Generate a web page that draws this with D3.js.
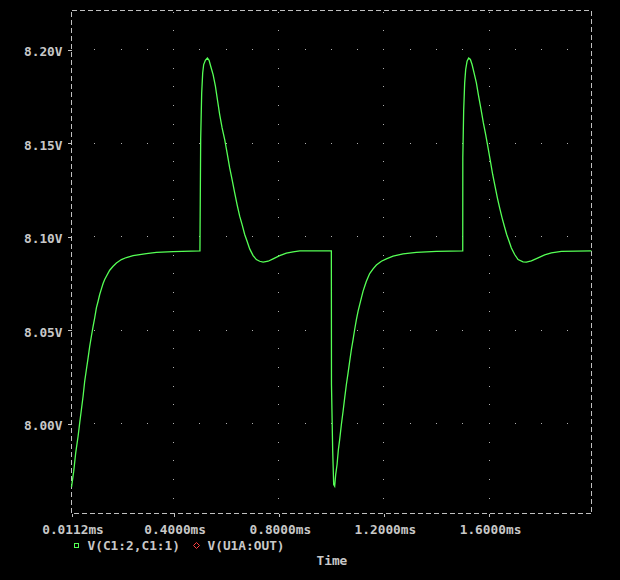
<!DOCTYPE html>
<html><head><meta charset="utf-8">
<script src="https://cdn.jsdelivr.net/npm/d3@7"></script>
<style>
html,body{margin:0;padding:0;background:#000;}
svg{display:block;}
text{font-family:"DejaVu Sans Mono","Liberation Mono",monospace;font-weight:bold;font-size:12.8px;fill:#c8c8c8;}
</style></head>
<body>
<script>
// ---- data (time in ms, voltage in V) ----
const seg1Time = [0.0112,0.0196,0.0272,0.0363,0.0424,0.0489,0.0553,0.0614,0.0679,0.0744,0.0805,0.0869,0.0934,0.0995,0.1059,0.1124,0.1185,0.1250,0.1314,0.1375,0.1440,0.1566,0.1695,0.1821,0.2011,0.2201,0.2456,0.2962,0.3343,0.3978,0.5000];
const seg1Volt = [7.9660,7.9744,7.9843,7.9932,8.0004,8.0075,8.0146,8.0226,8.0289,8.0351,8.0413,8.0467,8.0520,8.0565,8.0619,8.0654,8.0690,8.0720,8.0749,8.0770,8.0788,8.0820,8.0841,8.0859,8.0877,8.0888,8.0898,8.0909,8.0916,8.0920,8.0923];
const seg2Time = [0.5005,0.5028,0.5066,0.5104,0.5142,0.5207,0.5283,0.5348,0.5409,0.5500,0.5588,0.5664,0.5751,0.5843,0.5942,0.6033,0.6132,0.6223,0.6322,0.6413,0.6512,0.6604,0.6703,0.6794,0.6893,0.7022,0.7148,0.7273,0.7403,0.7593,0.7783,0.8034,0.8289,0.8544,0.8795,1.0000];
const seg2Volt = [8.1043,8.1524,8.1768,8.1875,8.1920,8.1943,8.1955,8.1943,8.1911,8.1866,8.1804,8.1733,8.1652,8.1581,8.1519,8.1447,8.1367,8.1305,8.1234,8.1171,8.1109,8.1064,8.1011,8.0975,8.0934,8.0898,8.0877,8.0868,8.0863,8.0868,8.0881,8.0898,8.0911,8.0918,8.0923,8.0923];
const seg3Time = [1.0005,1.0051,1.0089,1.0127,1.0165,1.0218,1.0268,1.0317,1.0382,1.0447,1.0508,1.0572,1.0637,1.0698,1.0763,1.0827,1.0888,1.0953,1.1018,1.1079,1.1143,1.1208,1.1269,1.1333,1.1459,1.1588,1.1714,1.1904,1.2094,1.2349,1.2730,1.3236,1.3997,1.5000];
const seg3Volt = [8.0209,7.9857,7.9674,7.9665,7.9727,7.9781,7.9861,7.9914,7.9995,8.0066,8.0137,8.0209,8.0271,8.0333,8.0396,8.0449,8.0503,8.0556,8.0601,8.0636,8.0672,8.0708,8.0734,8.0761,8.0802,8.0827,8.0848,8.0868,8.0881,8.0895,8.0907,8.0916,8.0921,8.0923];
const seg4Time = [1.5003,1.5036,1.5074,1.5112,1.5165,1.5226,1.5291,1.5355,1.5431,1.5519,1.5606,1.5698,1.5785,1.5873,1.5964,1.6052,1.6139,1.6230,1.6318,1.6405,1.6497,1.6584,1.6672,1.6763,1.6851,1.6976,1.7106,1.7296,1.7422,1.7612,1.7867,1.8118,1.8373,1.8754,1.9895];
const seg4Volt = [8.1421,8.1675,8.1822,8.1893,8.1938,8.1955,8.1947,8.1920,8.1875,8.1822,8.1750,8.1679,8.1608,8.1545,8.1474,8.1403,8.1332,8.1269,8.1207,8.1153,8.1100,8.1055,8.1011,8.0975,8.0939,8.0904,8.0877,8.0865,8.0863,8.0870,8.0886,8.0902,8.0913,8.0921,8.0923];

const xTickValues = [0.0112, 0.4, 0.8, 1.2, 1.6];
const xTickLabels = ["0.0112ms", "0.4000ms", "0.8000ms", "1.2000ms", "1.6000ms"];
const yTickValues = [8.00, 8.05, 8.10, 8.15, 8.20];
const yTickLabels = ["8.00V", "8.05V", "8.10V", "8.15V", "8.20V"];
const legendNames = ["V(C1:2,C1:1)", "V(U1A:OUT)"];
const xLabel = "Time";

// ---- layout ----
const W = 620, H = 580;
const pL = 71.5, pR = 591.5, pT = 10.5, pB = 513.5;
const frameCol = "#c0c0c0", dotCol = "#b0b0b0", lineCol = "#55ff55";

const svg = d3.select("body").append("svg").attr("width", W).attr("height", H);
svg.append("rect").attr("width", W).attr("height", H).attr("fill", "#000");

const x = d3.scaleLinear().domain([0.0112, 1.99]).range([pL, pR]);
const y = d3.scaleLinear().domain([7.9519, 8.2209]).range([pB, pT]);

// grid dots
const dots = [];
const xMinor = d3.range(1, 20).map(i => i / 10);
yTickValues.forEach(v => xMinor.forEach(t => dots.push([t, v])));
const yMinor = d3.range(796, 823).map(i => i / 100);
xTickValues.slice(1).forEach(t => yMinor.forEach(v => dots.push([t, v])));
svg.append("g").selectAll("rect").data(dots).join("rect")
  .attr("x", d => Math.round(x(d[0]) - 0.5))
  .attr("y", d => Math.round(y(d[1]) - 0.5))
  .attr("width", 1).attr("height", 1).attr("fill", dotCol)
  .attr("shape-rendering", "crispEdges");

// frame
svg.append("rect").attr("x", pL).attr("y", pT)
  .attr("width", pR - pL).attr("height", pB - pT)
  .attr("fill", "none").attr("stroke", frameCol).attr("stroke-width", 1)
  .attr("stroke-dasharray", "5,3").attr("shape-rendering", "crispEdges");

// axes
const yAxis = d3.axisLeft(y).tickValues(yTickValues).tickSize(4).tickPadding(5)
  .tickFormat((d, i) => yTickLabels[i]);
const gy = svg.append("g").attr("transform", `translate(${pL},0)`).call(yAxis);
gy.select(".domain").remove();
gy.selectAll("line").attr("stroke", frameCol).attr("shape-rendering", "crispEdges");
gy.selectAll("text").attr("dy", "0.47em").attr("fill", "#c8c8c8")
  .style("font-size", "12.8px").style("font-family", "DejaVu Sans Mono").style("font-weight", "bold");

const xAxis = d3.axisBottom(x).tickValues(xTickValues).tickSize(3).tickPadding(8)
  .tickFormat((d, i) => xTickLabels[i]);
const gx = svg.append("g").attr("transform", `translate(0,${pB})`).call(xAxis);
gx.select(".domain").remove();
gx.selectAll("line").attr("stroke", frameCol).attr("shape-rendering", "crispEdges");
gx.selectAll("text").attr("dx", "1").attr("fill", "#c8c8c8")
  .style("font-size", "12.8px").style("font-family", "DejaVu Sans Mono").style("font-weight", "bold");

// trace
const pts = [];
[[seg1Time, seg1Volt], [seg2Time, seg2Volt], [seg3Time, seg3Volt], [seg4Time, seg4Volt]]
  .forEach(([ts, vs]) => ts.forEach((t, i) => pts.push([t, vs[i]])));
const line = d3.line().x(d => x(d[0])).y(d => y(d[1]));
svg.append("path").datum(pts).attr("d", line)
  .attr("fill", "none").attr("stroke", lineCol).attr("stroke-width", 1.3);

// legend
const lg = svg.append("g");
lg.append("rect").attr("x", 74.5).attr("y", 543.5).attr("width", 4).attr("height", 4)
  .attr("fill", "none").attr("stroke", lineCol).attr("stroke-width", 1);
lg.append("text").attr("x", 87.5).attr("y", 549.5).text(legendNames[0]);
lg.append("path").attr("d", "M196.5,542.5 L199.5,545.5 L196.5,548.5 L193.5,545.5 Z")
  .attr("fill", "none").attr("stroke", "#ff4040").attr("stroke-width", 1);
lg.append("text").attr("x", 207.5).attr("y", 549.5).text(legendNames[1]);

svg.append("text").attr("x", 316.5).attr("y", 564.5).text(xLabel);
</script>
</body></html>
